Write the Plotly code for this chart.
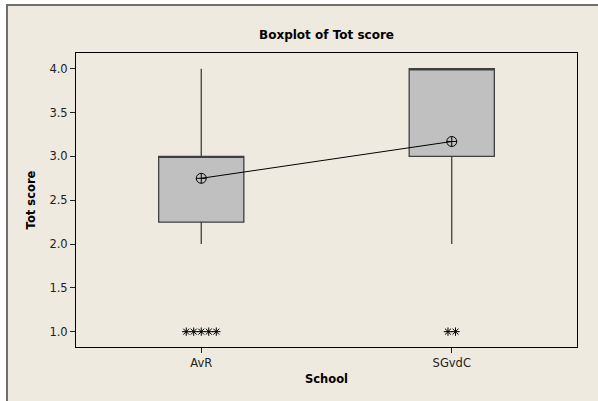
import plotly.graph_objects as go

schools = ["AvR", "SGvdC"]
q1 = [2.25, 3.0]
median = [3.0, 4.0]
q3 = [3.0, 4.0]
lower_whisker = [2.0, 2.0]
upper_whisker = [4.0, 4.0]
means = [2.75, 3.17]
outlier_value = [1.0, 1.0]
outlier_count = [5, 2]
y_ticks = [1.0, 1.5, 2.0, 2.5, 3.0, 3.5, 4.0]

positions = [1, 2]
FONT = "DejaVu Sans"

fig = go.Figure()

for i, s in enumerate(schools):
    fig.add_trace(go.Box(
        x=[positions[i]], q1=[q1[i]], median=[median[i]], q3=[q3[i]],
        lowerfence=[lower_whisker[i]], upperfence=[upper_whisker[i]],
        width=0.34, whiskerwidth=0, fillcolor="#C0C0C0",
        line=dict(color="#404040", width=1.3), boxpoints=False,
        showlegend=False, hoverinfo="skip"))

# outliers (placed side by side like Minitab)
ox, oy = [], []
step = 0.03
for i in range(len(schools)):
    n = outlier_count[i]
    for k in range(n):
        ox.append(positions[i] + (k - (n - 1) / 2) * step)
        oy.append(outlier_value[i])
fig.add_trace(go.Scatter(
    x=ox, y=oy, mode="markers", showlegend=False,
    marker=dict(symbol="asterisk-open", size=7, color="black",
                line=dict(color="#222222", width=1))))

# means connected
fig.add_trace(go.Scatter(
    x=positions, y=means, mode="lines+markers", showlegend=False,
    line=dict(color="black", width=1),
    marker=dict(symbol="circle-cross-open", size=10, color="black",
                line=dict(color="black", width=1))))

# figure frame
fig.add_shape(type="rect", xref="paper", yref="paper",
              x0=(7 - 76) / 501, x1=1.2, y0=-0.4, y1=(347 - 5) / 294,
              fillcolor="#EEEAE0", line=dict(color="#6E6E6E", width=2),
              layer="below")

fig.update_layout(
    width=598, height=401,
    margin=dict(l=76, r=21, t=53, b=54),
    paper_bgcolor="white", plot_bgcolor="white",
    font=dict(family=FONT, size=11.5, color="#222222"),
    title=dict(text="<b>Boxplot of Tot score</b>", x=(326.5) / 598, xanchor="center",
               y=1 - 34.5 / 401, yanchor="middle", yref="container",
               font=dict(family=FONT, size=12, color="black")),
    xaxis=dict(range=[0.5, 2.5], tickmode="array", tickvals=positions,
               ticktext=schools, ticks="outside", ticklen=5, tickcolor="#222222",
               showline=True, linecolor="black", linewidth=1, mirror=True,
               showgrid=False, zeroline=False,
               title=dict(text="<b>School</b>", standoff=6,
                          font=dict(family=FONT, size=11.5, color="black"))),
    yaxis=dict(range=[0.825, 4.18], tickmode="array", tickvals=y_ticks,
               ticktext=[f"{v:.1f}" for v in y_ticks],
               ticks="outside", ticklen=5, tickcolor="#222222",
               showline=True, linecolor="black", linewidth=1, mirror=True,
               showgrid=False, zeroline=False,
               title=dict(text="<b>Tot score</b>", standoff=11,
                          font=dict(family=FONT, size=11.5, color="black"))),
)

fig.write_html("out.html")
